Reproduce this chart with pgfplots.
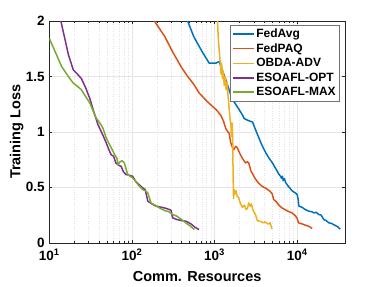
\documentclass[border=0pt]{standalone}
\usepackage{fontspec}
\setmainfont{Liberation Sans}
\usepackage{pgfplots}
\pgfplotsset{compat=1.18}
\definecolor{mblue}{rgb}{0,0.447,0.741}
\definecolor{mred}{rgb}{0.85,0.325,0.098}
\definecolor{myellow}{rgb}{0.929,0.694,0.125}
\definecolor{mpurple}{rgb}{0.494,0.184,0.556}
\definecolor{mgreen}{rgb}{0.466,0.674,0.188}
\definecolor{axgray}{rgb}{0.15,0.15,0.15}
\pgfplotsset{
  every tick label/.append style={font=\bfseries\fontsize{13.5}{15}\selectfont},
  every axis label/.append style={font=\bfseries\fontsize{14.5}{16}\selectfont},
  every axis legend/.append style={font=\bfseries\fontsize{12}{13}\selectfont},
}
\begin{document}
\bfseries
\begin{tikzpicture}[font=\bfseries]
\begin{axis}[
  name=ax,
  xmode=log,
  width=296pt, height=222pt, scale only axis,
  xmin=10, xmax=38000, ymin=0, ymax=2,
  xtick={10,100,1000,10000},
  xticklabels={10\textsuperscript{1},10\textsuperscript{2},10\textsuperscript{3},10\textsuperscript{4}},
  xticklabel style={inner sep=0.5pt, yshift=-5.5pt},
  yticklabel style={inner sep=0.5pt, xshift=-4pt},
  ytick={0,0.5,1,1.5,2},
  /pgf/number format/assume math mode=true,
  xmajorgrids, ymajorgrids, xminorgrids,
  major grid style={gray!20, line width=0.5pt},
  minor grid style={gray!22, dotted, line width=0.4pt},
  axis line style={axgray, line width=0.5pt},
  tick style={axgray, line width=0.5pt},
  major tick length=3pt, minor tick length=1.8pt,
  xlabel={Comm. Resources}, ylabel={Training Loss},
  every axis x label/.style={at={(axis description cs:0.5,-0.15)}, anchor=center},
  every axis y label/.style={at={(axis description cs:-0.11,0.5)}, anchor=center, rotate=90},
  legend style={at={(axis description cs:0.982,0.983)}, anchor=north east,
    draw=black!55, line width=0.5pt,
    inner sep=1.8pt, row sep=0.6pt, cells={anchor=west}},
  legend image code/.code={\draw[#1, line width=1.5pt] (0pt,0pt) -- (21pt,0pt);},
  every axis plot/.append style={line width=1.5pt, line join=round},
]
\addplot[mblue] coordinates {(473,2.00)(560,1.86)(700,1.73)(862,1.62)(1040,1.62)(1140,1.635)(1250,1.55)(1370,1.47)(1500,1.38)(1650,1.29)(1800,1.25)(1990,1.20)(2150,1.16)(2290,1.12)(2600,1.10)(2880,1.09)(3100,1.03)(3320,0.975)(3700,0.89)(4180,0.81)(4600,0.76)(5030,0.72)(5300,0.69)(5600,0.66)(6050,0.615)(6300,0.60)(6500,0.58)(6640,0.60)(6800,0.56)(7000,0.58)(7300,0.54)(8000,0.50)(8800,0.465)(9500,0.45)(10000,0.435)(10300,0.39)(10500,0.33)(11500,0.32)(12500,0.30)(13800,0.285)(15000,0.28)(16000,0.27)(17000,0.275)(18300,0.255)(19500,0.25)(21000,0.21)(22500,0.20)(24200,0.18)(26000,0.175)(27500,0.165)(29000,0.156)(31000,0.145)(32500,0.128)(33500,0.125)};
\addlegendentry{FedAvg}
\addplot[mred] coordinates {(187,2.0)(250,1.86)(312,1.72)(400,1.58)(473,1.50)(560,1.43)(654,1.35)(800,1.28)(946,1.23)(1050,1.20)(1190,1.15)(1280,1.10)(1370,1.03)(1450,1.00)(1500,0.99)(1575,0.90)(1650,0.86)(1720,0.84)(1800,0.87)(1880,0.86)(1980,0.82)(2160,0.765)(2370,0.72)(2500,0.73)(2600,0.72)(2750,0.65)(2850,0.63)(3100,0.58)(3400,0.54)(3750,0.51)(4200,0.49)(4700,0.465)(5000,0.44)(5200,0.39)(5600,0.37)(6000,0.34)(6550,0.315)(7500,0.29)(8630,0.27)(9500,0.245)(10000,0.22)(10400,0.18)(11500,0.17)(12500,0.16)(13700,0.15)(14500,0.14)(15200,0.128)};
\addlegendentry{FedPAQ}
\addplot[myellow] coordinates {(1087,2.0)(1110,1.85)(1150,1.7)(1180,1.6)(1200,1.52)(1220,1.62)(1250,1.48)(1280,1.55)(1310,1.42)(1350,1.50)(1380,1.38)(1420,1.45)(1460,1.32)(1500,1.22)(1540,1.12)(1580,1.06)(1600,0.96)(1630,1.08)(1660,0.95)(1680,0.60)(1700,0.40)(1730,0.48)(1770,0.44)(1820,0.47)(1880,0.42)(1950,0.41)(2050,0.36)(2180,0.32)(2300,0.34)(2400,0.30)(2500,0.31)(2600,0.36)(2700,0.33)(2800,0.35)(2900,0.30)(3000,0.28)(3150,0.25)(3300,0.20)(3500,0.195)(3700,0.19)(3900,0.18)(4100,0.19)(4300,0.175)(4500,0.17)(4700,0.18)(4850,0.15)(4950,0.125)};
\addlegendentry{OBDA-ADV}
\addplot[mpurple] coordinates {(13.8,2.0)(14.6,1.92)(15.4,1.844)(17,1.70)(19.5,1.56)(22,1.52)(24.5,1.48)(27.5,1.40)(31,1.30)(35,1.17)(38.9,1.065)(44,0.98)(49,0.90)(52,0.85)(56,0.795)(60,0.78)(64,0.72)(69,0.70)(74,0.69)(79,0.64)(85,0.615)(92,0.61)(102,0.60)(112,0.55)(120,0.53)(135,0.495)(145,0.48)(150,0.43)(156,0.375)(175,0.35)(197,0.33)(230,0.32)(260,0.31)(284,0.30)(300,0.29)(305,0.25)(312,0.225)(350,0.21)(400,0.20)(450,0.195)(520,0.17)(580,0.14)(650,0.12)};
\addlegendentry{ESOAFL-OPT}
\addplot[mgreen] coordinates {(10,1.844)(12,1.71)(14.1,1.59)(17,1.50)(19.5,1.44)(22,1.41)(24.5,1.38)(27.5,1.32)(31,1.26)(37,1.124)(41,1.08)(44.6,1.035)(49,0.944)(55,0.87)(62,0.795)(66,0.76)(68,0.705)(72,0.73)(76,0.74)(81,0.72)(89,0.615)(95,0.60)(102,0.585)(110,0.56)(120,0.52)(135,0.48)(145,0.47)(156,0.45)(170,0.36)(190,0.34)(215,0.315)(250,0.29)(280,0.28)(312,0.255)(350,0.24)(400,0.21)(450,0.18)(510,0.15)(570,0.12)};
\addlegendentry{ESOAFL-MAX}
\end{axis}
\pgfresetboundingbox
\path ([xshift=-49.3pt,yshift=-43.7pt]ax.south west) rectangle ([xshift=37pt,yshift=21pt]ax.north east);
\end{tikzpicture}
\end{document}
